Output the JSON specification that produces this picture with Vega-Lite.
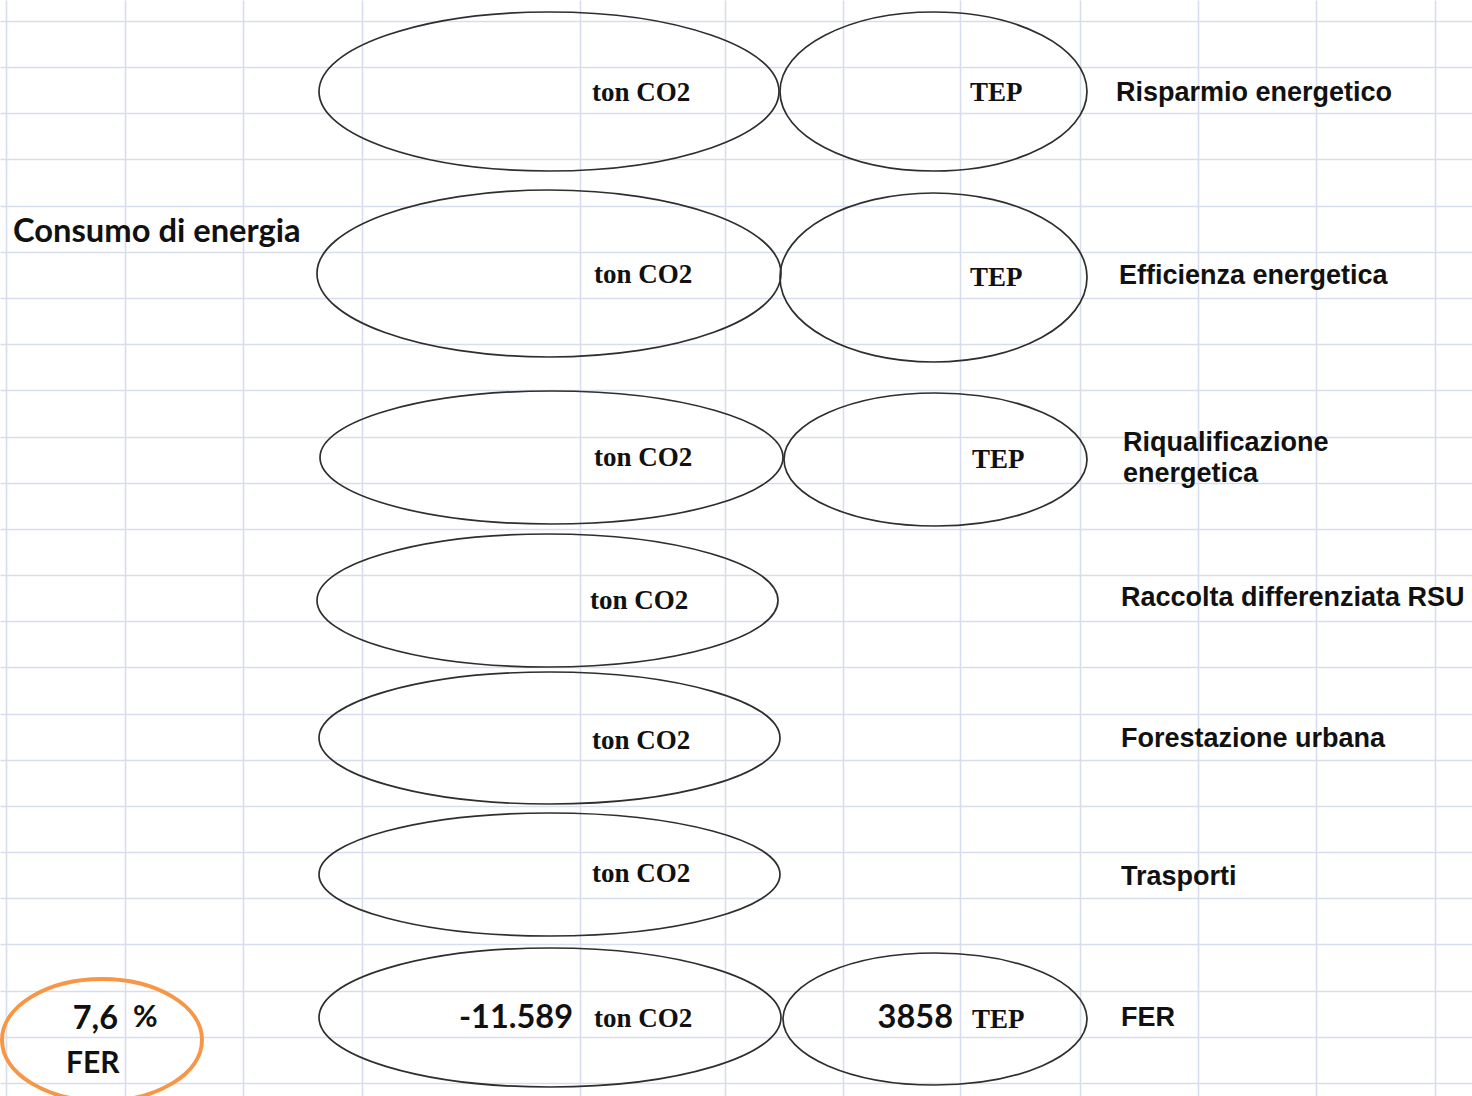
{
  "$schema": "https://vega.github.io/schema/vega-lite/v6.json",
  "width": 1472,
  "height": 1096,
  "autosize": "none",
  "padding": 0,
  "background": "white",
  "config": {"view": {"stroke": null}},
  "datasets": {
    "shapes": [
      {"id": "co2_risparmio", "kind": "outline", "x": 549, "y": 91.5},
      {"id": "tep_risparmio", "kind": "outline", "x": 933.5, "y": 91.5},
      {"id": "co2_efficienza", "kind": "outline", "x": 549, "y": 273.5},
      {"id": "tep_efficienza", "kind": "outline", "x": 933.5, "y": 277.5},
      {"id": "co2_riqualificazione", "kind": "outline", "x": 551.5, "y": 457.5},
      {"id": "tep_riqualificazione", "kind": "outline", "x": 935.5, "y": 459.5},
      {"id": "co2_raccolta", "kind": "outline", "x": 547.5, "y": 600.5},
      {"id": "co2_forestazione", "kind": "outline", "x": 549.5, "y": 738},
      {"id": "co2_trasporti", "kind": "outline", "x": 549.5, "y": 874.5},
      {"id": "co2_fer", "kind": "outline", "x": 550, "y": 1017.5},
      {"id": "tep_fer", "kind": "outline", "x": 935, "y": 1019},
      {"id": "quota_fer", "kind": "highlight", "x": 102, "y": 1040}
    ],
    "labels": [
      {"text": "ton CO2", "role": "unit", "x": 592, "y": 93},
      {"text": "ton CO2", "role": "unit", "x": 594, "y": 275},
      {"text": "ton CO2", "role": "unit", "x": 594, "y": 458},
      {"text": "ton CO2", "role": "unit", "x": 590, "y": 601},
      {"text": "ton CO2", "role": "unit", "x": 592, "y": 741},
      {"text": "ton CO2", "role": "unit", "x": 592, "y": 874},
      {"text": "ton CO2", "role": "unit", "x": 594, "y": 1019},
      {"text": "TEP", "role": "unit", "x": 970, "y": 93},
      {"text": "TEP", "role": "unit", "x": 970, "y": 278},
      {"text": "TEP", "role": "unit", "x": 972, "y": 460},
      {"text": "TEP", "role": "unit", "x": 972, "y": 1020},
      {"text": "Risparmio energetico", "role": "category", "x": 1116, "y": 93},
      {"text": "Efficienza energetica", "role": "category", "x": 1119, "y": 276},
      {"text": "Riqualificazione", "role": "category", "x": 1123, "y": 443},
      {"text": "energetica", "role": "category", "x": 1123, "y": 474},
      {"text": "Raccolta differenziata RSU", "role": "category", "x": 1121, "y": 598},
      {"text": "Forestazione urbana", "role": "category", "x": 1121, "y": 739},
      {"text": "Trasporti", "role": "category", "x": 1121, "y": 877},
      {"text": "FER", "role": "category", "x": 1121, "y": 1018},
      {"text": "-11.589", "role": "value", "x": 573, "y": 1018},
      {"text": "3858", "role": "value", "x": 953, "y": 1018},
      {"text": "7,6", "role": "value", "x": 118, "y": 1019},
      {"text": "%", "role": "note", "x": 133, "y": 1018},
      {"text": "FER", "role": "note", "x": 66, "y": 1064},
      {"text": "Consumo di energia", "role": "heading", "x": 13, "y": 232}
    ]
  },
  "encoding": {
    "x": {
      "field": "x",
      "type": "quantitative",
      "scale": {"domain": [0, 1472], "nice": false, "zero": false},
      "axis": {
        "orient": "top",
        "values": [6, 125, 243, 362, 580, 725, 843, 960, 1080, 1198, 1316, 1435],
        "grid": true,
        "gridColor": "#d7ddec",
        "gridWidth": 1.6,
        "domain": false,
        "ticks": false,
        "labels": false,
        "title": null
      }
    },
    "y": {
      "field": "y",
      "type": "quantitative",
      "scale": {"domain": [0, 1096], "nice": false, "zero": false, "reverse": true},
      "axis": {
        "values": [21, 67, 113, 159, 206, 252, 298, 344, 390, 437, 483, 529, 575, 621, 667, 714, 760, 806, 852, 898, 944, 991, 1037, 1083],
        "grid": true,
        "gridColor": "#d7ddec",
        "gridWidth": 1.6,
        "domain": false,
        "ticks": false,
        "labels": false,
        "title": null
      }
    }
  },
  "layer": [
    {
      "data": {"name": "shapes"},
      "mark": {"type": "point", "size": 4, "filled": false, "opacity": 1},
      "encoding": {
        "color": {
          "field": "kind",
          "type": "nominal",
          "legend": null,
          "scale": {"domain": ["outline", "highlight"], "range": ["#2e2e2e", "#f79646"]}
        },
        "strokeWidth": {
          "field": "kind",
          "type": "nominal",
          "legend": null,
          "scale": {"domain": ["outline", "highlight"], "range": [1.7, 4]}
        },
        "shape": {
          "field": "id",
          "type": "nominal",
          "legend": null,
          "scale": {
            "domain": ["co2_risparmio", "tep_risparmio", "co2_efficienza", "tep_efficienza", "co2_riqualificazione", "tep_riqualificazione", "co2_raccolta", "co2_forestazione", "co2_trasporti", "co2_fer", "tep_fer", "quota_fer"],
            "range": [
              "M-230,0A230,79.5,0,1,0,230,0A230,79.5,0,1,0,-230,0Z",
              "M-153.5,0A153.5,79.5,0,1,0,153.5,0A153.5,79.5,0,1,0,-153.5,0Z",
              "M-232,0A232,83.5,0,1,0,232,0A232,83.5,0,1,0,-232,0Z",
              "M-153.5,0A153.5,84.5,0,1,0,153.5,0A153.5,84.5,0,1,0,-153.5,0Z",
              "M-231.5,0A231.5,66.5,0,1,0,231.5,0A231.5,66.5,0,1,0,-231.5,0Z",
              "M-151.5,0A151.5,66.5,0,1,0,151.5,0A151.5,66.5,0,1,0,-151.5,0Z",
              "M-230.5,0A230.5,66.5,0,1,0,230.5,0A230.5,66.5,0,1,0,-230.5,0Z",
              "M-230.5,0A230.5,66,0,1,0,230.5,0A230.5,66,0,1,0,-230.5,0Z",
              "M-230.5,0A230.5,61.5,0,1,0,230.5,0A230.5,61.5,0,1,0,-230.5,0Z",
              "M-231,0A231,69.5,0,1,0,231,0A231,69.5,0,1,0,-231,0Z",
              "M-152,0A152,66,0,1,0,152,0A152,66,0,1,0,-152,0Z",
              "M-100,0A100,61,0,1,0,100,0A100,61,0,1,0,-100,0Z"
            ]
          }
        }
      }
    },
    {
      "data": {"name": "labels"},
      "transform": [{"filter": "datum.role === 'unit'"}],
      "mark": {"type": "text", "align": "left", "baseline": "middle", "font": "Liberation Serif", "fontWeight": "bold", "fontSize": 27, "color": "#111111"},
      "encoding": {"text": {"field": "text"}}
    },
    {
      "data": {"name": "labels"},
      "transform": [{"filter": "datum.role === 'category'"}],
      "mark": {"type": "text", "align": "left", "baseline": "middle", "font": "Liberation Sans", "fontWeight": "bold", "fontSize": 27, "color": "#111111"},
      "encoding": {"text": {"field": "text"}}
    },
    {
      "data": {"name": "labels"},
      "transform": [{"filter": "datum.role === 'value'"}],
      "mark": {"type": "text", "align": "right", "baseline": "middle", "font": "Lato", "fontWeight": "bold", "fontSize": 32.5, "color": "#111111"},
      "encoding": {"text": {"field": "text"}}
    },
    {
      "data": {"name": "labels"},
      "transform": [{"filter": "datum.role === 'note'"}],
      "mark": {"type": "text", "align": "left", "baseline": "middle", "font": "Lato", "fontWeight": "bold", "fontSize": 30, "color": "#111111"},
      "encoding": {"text": {"field": "text"}}
    },
    {
      "data": {"name": "labels"},
      "transform": [{"filter": "datum.role === 'heading'"}],
      "mark": {"type": "text", "align": "left", "baseline": "middle", "font": "Lato", "fontWeight": "bold", "fontSize": 32.7, "color": "#111111"},
      "encoding": {"text": {"field": "text"}}
    }
  ]
}
